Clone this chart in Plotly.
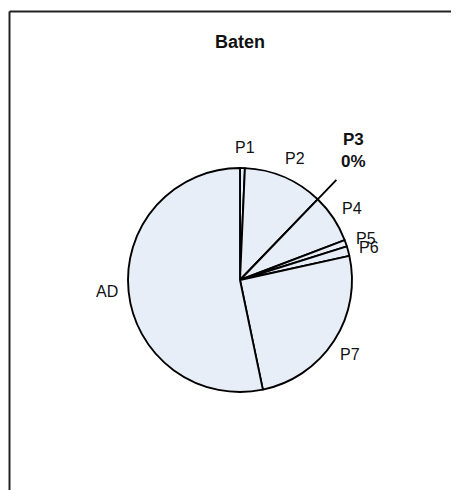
import numpy as np
import plotly.graph_objects as go

# slice shares (percent), clockwise from 12 o'clock
labels = ['P1', 'P2', 'P3', 'P4', 'P5', 'P6', 'P7', 'AD']
values = [0.7, 11.5, 0.0, 7.0, 0.95, 1.4, 25.2, 53.3]

# the page body adds an 8px margin, so the figure is 8px smaller
# and every position is measured from (8, 8)
OFF = 8
W, H = 459 - OFF, 490 - OFF
cx, cy, r = 240 - OFF, 280 - OFF, 112  # pie centre / radius in px


def to_paper(dist, ang_deg):
    a = np.radians(ang_deg)
    px = cx + dist * np.sin(a)
    py = cy - dist * np.cos(a)
    return px / W, 1 - py / H


fig = go.Figure(go.Pie(
    labels=labels, values=values, sort=False,
    direction='clockwise', rotation=0,
    textinfo='none', hoverinfo='label+percent',
    marker=dict(colors=['#e8eef7'] * len(labels),
                line=dict(color='black', width=1.9)),
    domain=dict(x=[(cx - r) / W, (cx + r) / W],
                y=[(H - cy - r) / H, (H - cy + r) / H]),
    showlegend=False,
))

# labels outside the slices, zero slices get a leader line + bold percent
annotations = []
shapes = []
total = sum(values)
cum = 0
for lab, v in zip(labels, values):
    a0 = cum / total * 360
    cum += v
    a1 = cum / total * 360
    mid = (a0 + a1) / 2
    if v == 0:
        x0, y0 = to_paper(r, mid)
        x1, y1 = to_paper(r + 27, mid)
        shapes.append(dict(type='line', xref='paper', yref='paper',
                           x0=x0, y0=y0, x1=x1, y1=y1,
                           line=dict(color='black', width=1.9)))
        tx, ty = to_paper(172, mid - 2.5)
        annotations.append(dict(x=tx, y=ty, xref='paper', yref='paper',
                                text=f'<b>{lab}<br>0%</b>', showarrow=False,
                                xanchor='center', yanchor='middle',
                                font=dict(size=17, color='#111')))
    else:
        tx, ty = to_paper(r + 21, mid + 1)
        annotations.append(dict(x=tx, y=ty, xref='paper', yref='paper',
                                text=lab, showarrow=False,
                                xanchor='center', yanchor='middle',
                                font=dict(size=16, color='#111')))

# chart frame (only top and left edges are visible)
fx, fy = 9.5 - OFF, 11.5 - OFF
shapes.append(dict(type='line', xref='paper', yref='paper',
                   x0=fx / W, y0=1 - fy / H, x1=1, y1=1 - fy / H,
                   line=dict(color='#222', width=2)))
shapes.append(dict(type='line', xref='paper', yref='paper',
                   x0=fx / W, y0=1 - fy / H, x1=fx / W, y1=0,
                   line=dict(color='#222', width=2)))

fig.update_layout(
    width=W, height=H,
    margin=dict(l=0, r=0, t=0, b=0),
    paper_bgcolor='white',
    font=dict(family='Liberation Sans, Arial, sans-serif', color='#111'),
    title=dict(text='<b>Baten</b>', x=(240 - OFF) / W, y=1 - (42 - OFF) / H,
               xanchor='center', yanchor='middle',
               font=dict(size=18, color='#111')),
    annotations=annotations,
    shapes=shapes,
)

fig.write_html("out.html")
